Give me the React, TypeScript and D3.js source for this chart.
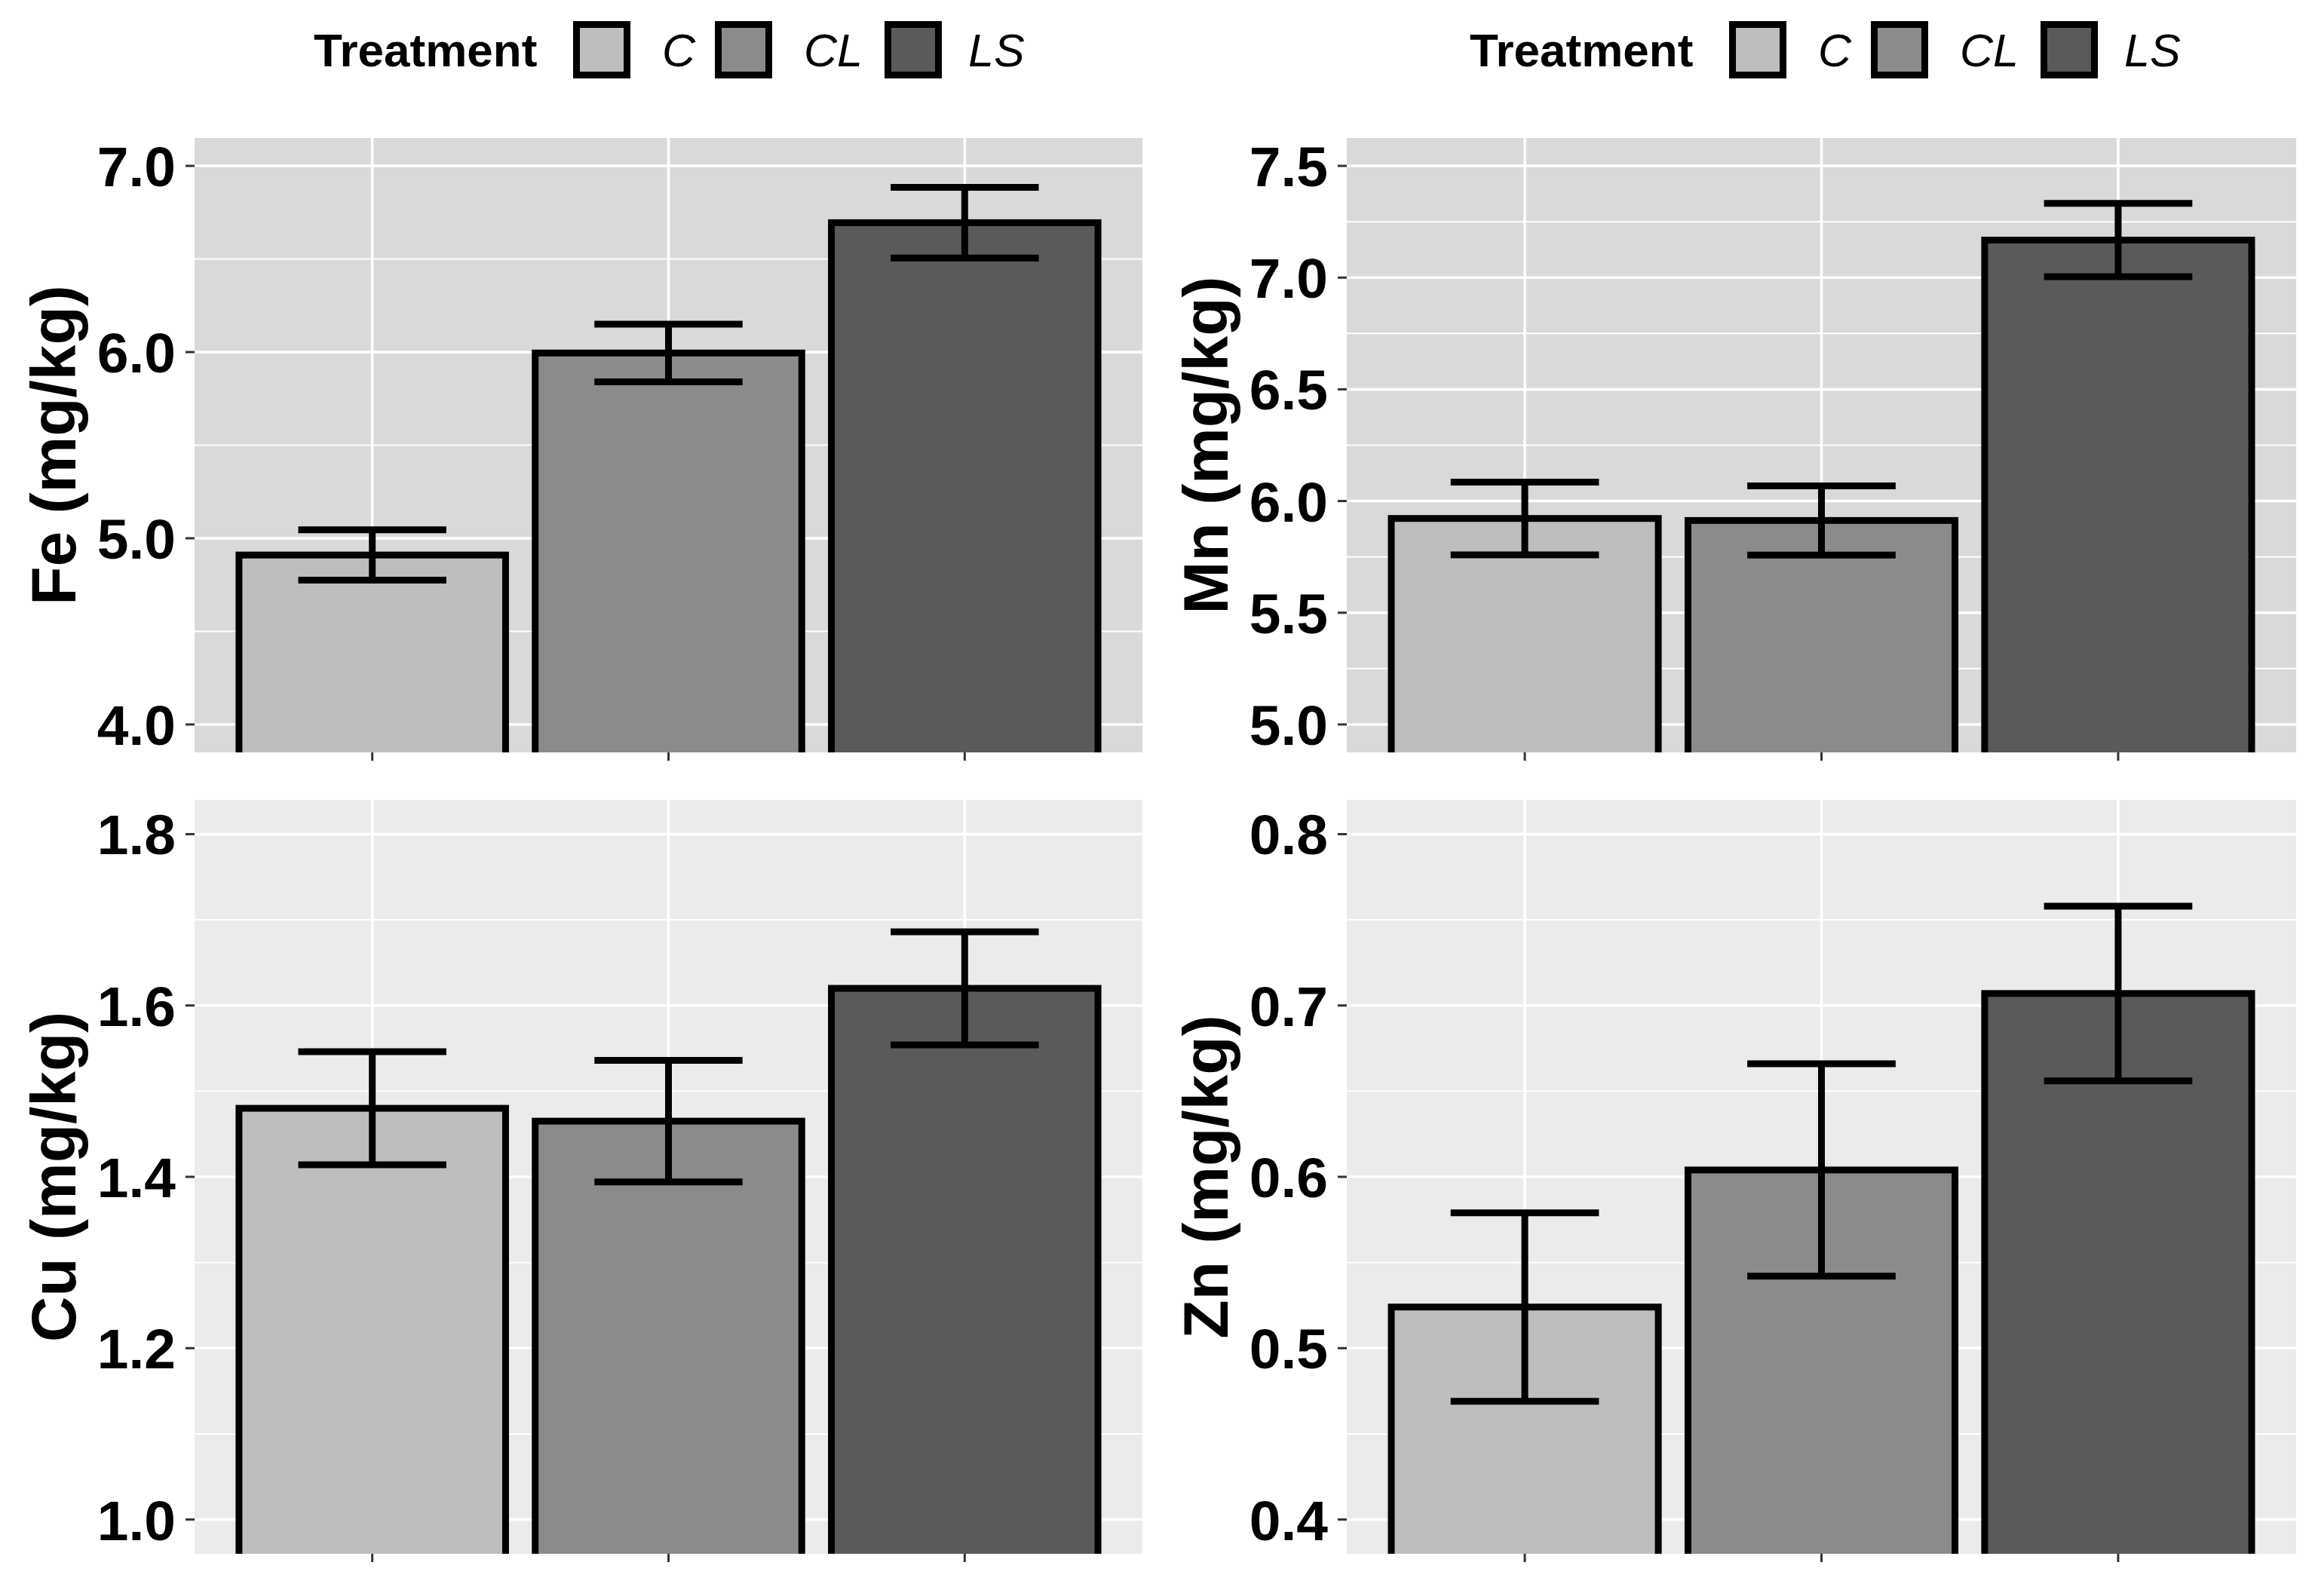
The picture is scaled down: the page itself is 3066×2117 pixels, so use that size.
import React from 'react';
import * as d3 from 'd3';

const categories = ['C', 'CL', 'LS'];
const fills = ['#BEBEBE', '#8B8B8B', '#5A5A5A'];

const feMean = [4.91, 5.995, 6.695];
const feErr = [0.135, 0.155, 0.19];
const mnMean = [5.922, 5.913, 7.168];
const mnErr = [0.163, 0.155, 0.164];
const cuMean = [1.48, 1.465, 1.62];
const cuErr = [0.066, 0.071, 0.066];
const znMean = [0.524, 0.604, 0.707];
const znErr = [0.055, 0.062, 0.051];

const feTicks = [4, 5, 6, 7];
const mnTicks = [5, 5.5, 6, 6.5, 7, 7.5];
const cuTicks = [1.0, 1.2, 1.4, 1.6, 1.8];
const znTicks = [0.4, 0.5, 0.6, 0.7, 0.8];

const feDomain = [3.85, 7.15];
const mnDomain = [4.875, 7.625];
const cuDomain = [0.96, 1.84];
const znDomain = [0.38, 0.82];

const FONT = '"Liberation Sans", Arial, Helvetica, sans-serif';

type PanelProps = {
  id: string;
  x0: number; x1: number; y0: number; y1: number;
  domain: number[]; ticks: number[];
  means: number[]; errs: number[];
  bg: string; title: string;
};

function Panel({ id, x0, x1, y0, y1, domain, ticks, means, errs, bg, title }: PanelProps) {
  const x = d3.scaleBand<string>().domain(categories).range([x0, x1]).paddingInner(0.1).paddingOuter(0.15);
  const y = d3.scaleLinear().domain(domain).range([y1, y0]);
  const minor: number[] = [];
  for (let i = 0; i < ticks.length - 1; i++) minor.push((ticks[i] + ticks[i + 1]) / 2);
  const step = x.step();
  const bw = x.bandwidth();
  const ew = step * 0.5;
  return (
    <g>
      <defs>
        <clipPath id={id}>
          <rect x={x0} y={y0} width={x1 - x0} height={y1 - y0} />
        </clipPath>
      </defs>
      <rect x={x0} y={y0} width={x1 - x0} height={y1 - y0} fill={bg} />
      <g clipPath={`url(#${id})`}>
        {minor.map((m, i) => (
          <line key={'mn' + i} x1={x0} x2={x1} y1={y(m)} y2={y(m)} stroke="#fff" strokeWidth={2} />
        ))}
        {ticks.map((t, i) => (
          <line key={'mj' + i} x1={x0} x2={x1} y1={y(t)} y2={y(t)} stroke="#fff" strokeWidth={3.5} />
        ))}
        {categories.map((c) => (
          <line key={'vx' + c} x1={x(c)! + bw / 2} x2={x(c)! + bw / 2} y1={y0} y2={y1} stroke="#fff" strokeWidth={3.5} />
        ))}
        {categories.map((c, i) => (
          <rect key={'b' + c} x={x(c)!} y={y(means[i])} width={bw} height={y(domain[0] - 1) - y(means[i])}
            fill={fills[i]} stroke="#000" strokeWidth={9} />
        ))}
        {categories.map((c, i) => {
          const cx = x(c)! + bw / 2;
          return (
            <g key={'e' + c} stroke="#000" strokeWidth={9}>
              <line x1={cx - ew / 2} x2={cx + ew / 2} y1={y(means[i] + errs[i])} y2={y(means[i] + errs[i])} />
              <line x1={cx - ew / 2} x2={cx + ew / 2} y1={y(means[i] - errs[i])} y2={y(means[i] - errs[i])} />
              <line x1={cx} x2={cx} y1={y(means[i] + errs[i])} y2={y(means[i] - errs[i])} />
            </g>
          );
        })}
      </g>
      {ticks.map((t, i) => (
        <g key={'yt' + i}>
          <line x1={x0 - 12} x2={x0} y1={y(t)} y2={y(t)} stroke="#333" strokeWidth={3} />
          <text x={x0 - 25} y={y(t)} dy="0.36em" textAnchor="end" fontFamily={FONT} fontWeight="bold"
            fontSize={75} fill="#000">{t.toFixed(1)}</text>
        </g>
      ))}
      {categories.map((c) => (
        <line key={'xt' + c} x1={x(c)! + bw / 2} x2={x(c)! + bw / 2} y1={y1} y2={y1 + 11} stroke="#333" strokeWidth={3} />
      ))}
      <text transform={`translate(${x0 - 158},${(y0 + y1) / 2}) rotate(-90)`} textAnchor="middle"
        fontFamily={FONT} fontWeight="bold" fontSize={84} fill="#000">{title}</text>
    </g>
  );
}

function Legend({ dx }: { dx: number }) {
  const keyX = [760, 948, 1173];
  const labX = [878, 1066, 1284];
  const ky = 28;
  const ks = 76;
  return (
    <g transform={`translate(${dx},0)`}>
      <text x={416} y={66} dy="0.36em" fontFamily={FONT} fontWeight="bold" fontSize={62} fill="#000">Treatment</text>
      {categories.map((c, i) => (
        <g key={c}>
          <rect x={keyX[i] + 4.5} y={ky + 4.5} width={ks - 9} height={ks - 9} fill={fills[i]} stroke="#000" strokeWidth={9} />
          <text x={labX[i]} y={66} dy="0.36em" fontFamily={FONT} fontStyle="italic" fontSize={61} fill="#000">{c}</text>
        </g>
      ))}
    </g>
  );
}

export default function App() {
  return (
    <svg width={3066} height={2117} style={{ position: 'absolute', left: 0, top: 0, background: '#fff' }}>
      <rect x={0} y={0} width={3066} height={2117} fill="#fff" />
      <Legend dx={0} />
      <Legend dx={1533} />
      <Panel id="p1" x0={258} x1={1515} y0={183} y1={998} domain={feDomain} ticks={feTicks}
        means={feMean} errs={feErr} bg="#D9D9D9" title="Fe (mg/kg)" />
      <Panel id="p2" x0={1786} x1={3045} y0={183} y1={998} domain={mnDomain} ticks={mnTicks}
        means={mnMean} errs={mnErr} bg="#D9D9D9" title="Mn (mg/kg)" />
      <Panel id="p3" x0={258} x1={1515} y0={1061} y1={2061} domain={cuDomain} ticks={cuTicks}
        means={cuMean} errs={cuErr} bg="#EBEBEB" title="Cu (mg/kg)" />
      <Panel id="p4" x0={1786} x1={3045} y0={1061} y1={2061} domain={znDomain} ticks={znTicks}
        means={znMean} errs={znErr} bg="#EBEBEB" title="Zn (mg/kg)" />
    </svg>
  );
}
